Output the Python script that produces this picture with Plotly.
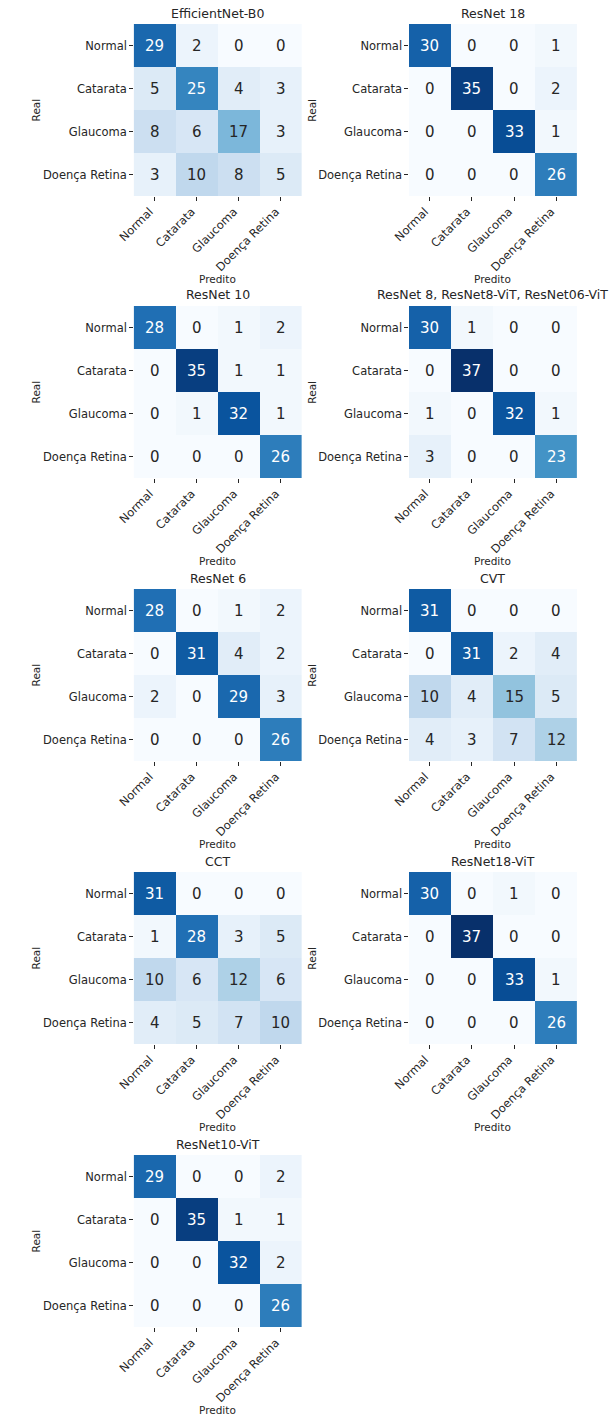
import plotly.graph_objects as go
from plotly.colors import sample_colorscale, unlabel_rgb

classes = ["Normal", "Catarata", "Glaucoma", "Doença Retina"]

titles = [
    "EfficientNet-B0", "ResNet 18", "ResNet 10",
    "ResNet 8, ResNet8-ViT, ResNet06-ViT", "ResNet 6", "CVT",
    "CCT", "ResNet18-ViT", "ResNet10-ViT",
]

cm_efficientnet_b0 = [[29, 2, 0, 0], [5, 25, 4, 3], [8, 6, 17, 3], [3, 10, 8, 5]]
cm_resnet18 = [[30, 0, 0, 1], [0, 35, 0, 2], [0, 0, 33, 1], [0, 0, 0, 26]]
cm_resnet10 = [[28, 0, 1, 2], [0, 35, 1, 1], [0, 1, 32, 1], [0, 0, 0, 26]]
cm_resnet8 = [[30, 1, 0, 0], [0, 37, 0, 0], [1, 0, 32, 1], [3, 0, 0, 23]]
cm_resnet6 = [[28, 0, 1, 2], [0, 31, 4, 2], [2, 0, 29, 3], [0, 0, 0, 26]]
cm_cvt = [[31, 0, 0, 0], [0, 31, 2, 4], [10, 4, 15, 5], [4, 3, 7, 12]]
cm_cct = [[31, 0, 0, 0], [1, 28, 3, 5], [10, 6, 12, 6], [4, 5, 7, 10]]
cm_resnet18_vit = [[30, 0, 1, 0], [0, 37, 0, 0], [0, 0, 33, 1], [0, 0, 0, 26]]
cm_resnet10_vit = [[29, 0, 0, 2], [0, 35, 1, 1], [0, 0, 32, 2], [0, 0, 0, 26]]

matrices = [cm_efficientnet_b0, cm_resnet18, cm_resnet10, cm_resnet8, cm_resnet6,
            cm_cvt, cm_cct, cm_resnet18_vit, cm_resnet10_vit]

BLUES = ['rgb(247,251,255)', 'rgb(222,235,247)', 'rgb(198,219,239)', 'rgb(158,202,225)',
         'rgb(107,174,214)', 'rgb(66,146,198)', 'rgb(33,113,181)', 'rgb(8,81,156)',
         'rgb(8,48,107)']
n = len(BLUES)
colorscale = [[i / (n - 1), c] for i, c in enumerate(BLUES)]

W, H = 616, 1414
FONT = "DejaVu Sans"
DARK = "#262626"
VMIN, VMAX = 0, max(max(max(r) for r in m) for m in matrices)

col_left = [120, 403]
cell_w = 173
row_top = [24, 306, 589, 872, 1155]
cell_h = 172


def px_x(x):
    return x / W


def px_y(y):
    return 1 - y / H


def text_color(v):
    c = sample_colorscale(colorscale, [(v - VMIN) / (VMAX - VMIN)])[0]
    r, g, b = [float(t) / 255 for t in unlabel_rgb(c)]

    def lin(u):
        return u / 12.92 if u <= 0.03928 else ((u + 0.055) / 1.055) ** 2.4
    lum = 0.2126 * lin(r) + 0.7152 * lin(g) + 0.0722 * lin(b)
    return DARK if lum > 0.408 else "white"


fig = go.Figure()
annotations = []
idx = list(range(len(classes)))

for k, (title, m) in enumerate(zip(titles, matrices)):
    r, c = divmod(k, 2)
    ax = "" if k == 0 else str(k + 1)
    x0 = col_left[c]
    y0 = row_top[r]
    fig.add_trace(go.Heatmap(
        z=m, x=idx, y=idx, colorscale=colorscale, zmin=VMIN, zmax=VMAX,
        showscale=False, xaxis="x" + ax, yaxis="y" + ax, hoverinfo="skip",
    ))
    fig.layout["xaxis" + ax] = dict(
        domain=[px_x(x0), px_x(x0 + cell_w)], anchor="y" + ax,
        range=[-0.5, len(classes) - 0.5], tickvals=idx, ticktext=classes,
        tickangle=-45, ticks="outside", ticklen=3.5, tickwidth=1, tickcolor=DARK,
        ticklabelshift=-5,
        tickfont=dict(family=FONT, size=11.5, color=DARK),
        showgrid=False, zeroline=False, showline=False, fixedrange=True,
    )
    fig.layout["yaxis" + ax] = dict(
        domain=[px_y(y0 + cell_h), px_y(y0)], anchor="x" + ax,
        range=[len(classes) - 0.5, -0.5], tickvals=idx, ticktext=classes,
        ticks="outside", ticklen=3.5, tickwidth=1, tickcolor=DARK,
        tickfont=dict(family=FONT, size=11.5, color=DARK),
        showgrid=False, zeroline=False, showline=False, fixedrange=True,
    )
    # cell values
    for i, row in enumerate(m):
        for j, v in enumerate(row):
            annotations.append(dict(
                x=j, y=i, xref="x" + ax, yref="y" + ax, text=str(v), showarrow=False,
                font=dict(family=FONT, size=15, color=text_color(v)),
            ))
    # title
    annotations.append(dict(
        x=px_x(x0 + cell_w / 2), y=px_y(y0 - 11), xref="paper", yref="paper",
        text=title, showarrow=False, xanchor="center", yanchor="middle",
        font=dict(family=FONT, size=12.5, color=DARK),
    ))
    # axis labels
    annotations.append(dict(
        x=px_x(x0 + cell_w / 2), y=px_y(y0 + cell_h + 83), xref="paper", yref="paper",
        text="Predito", showarrow=False, xanchor="center", yanchor="middle",
        font=dict(family=FONT, size=10.5, color=DARK),
    ))
    annotations.append(dict(
        x=px_x(x0 - 100), y=px_y(y0 + cell_h / 2), xref="paper", yref="paper",
        text="Real", showarrow=False, xanchor="center", yanchor="middle", textangle=-90,
        font=dict(family=FONT, size=10.5, color=DARK),
    ))

fig.update_layout(
    width=W, height=H, autosize=False,
    margin=dict(l=0, r=0, t=0, b=0),
    paper_bgcolor="white", plot_bgcolor="white",
    annotations=annotations, showlegend=False,
    font=dict(family=FONT, color=DARK),
)

fig.write_html(
    "out.html",
    config={"displayModeBar": False, "staticPlot": True},
    post_script="document.body.style.margin='0';document.body.style.padding='0';"
                "document.documentElement.style.overflow='hidden';",
)
